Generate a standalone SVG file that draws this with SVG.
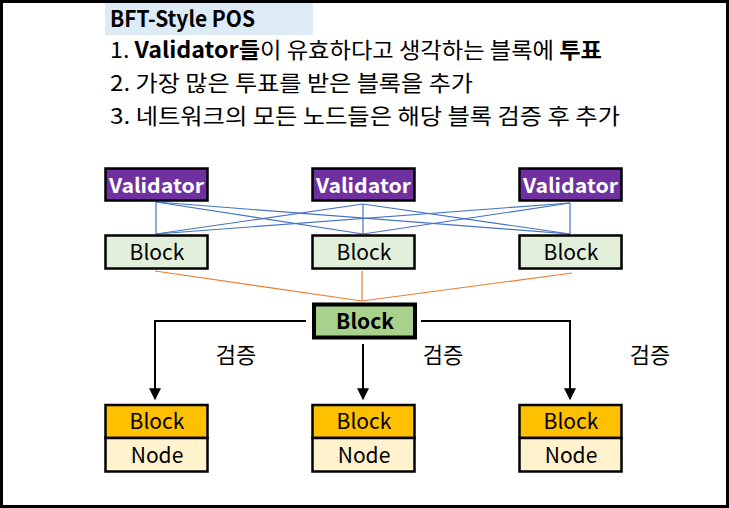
<svg xmlns="http://www.w3.org/2000/svg" width="729" height="508" viewBox="0 0 729 508">
<defs>
<style>
text{font-family:"Noto Sans CJK KR","Noto Sans",sans-serif;fill:#000}
.t{font-size:22px}
.b{font-weight:bold}
.lbl{font-size:21px;text-anchor:middle}
.ver{font-size:22px;text-anchor:middle}
.val rect{fill:#7030A0;stroke:#000;stroke-width:2.5}
.val text{fill:#fff;font-weight:bold}
.blk rect{fill:#E2EFDA;stroke:#000;stroke-width:2.5}
.nd rect.top{fill:#FFC000;stroke:#000;stroke-width:2.5}
.nd rect.bot{fill:#FFF2CC;stroke:#000;stroke-width:2.5}
.blue line{stroke:#4472C4;stroke-width:1.2}
.orange line{stroke:#ED7D31;stroke-width:1.2}
.arr{fill:none;stroke:#000;stroke-width:2;marker-end:url(#ah)}
</style>
<marker id="ah" viewBox="0 0 10 10" refX="9" refY="5" markerWidth="6.5" markerHeight="6" orient="auto" markerUnits="strokeWidth">
<path d="M0,0 L10,5 L0,10 Z" fill="#000"/>
</marker>
</defs>
<rect x="0" y="0" width="729" height="508" fill="#fff"/>
<rect x="1.5" y="1.5" width="726" height="505" fill="none" stroke="#000" stroke-width="3"/>

<g id="title">
<rect x="105" y="3" width="208" height="32" fill="#DDEBF7"/>
<text x="110" y="27" class="t b" font-size="21" textLength="145" lengthAdjust="spacingAndGlyphs">BFT-Style POS</text>
<text x="110" y="58" class="t" textLength="492" lengthAdjust="spacingAndGlyphs">1. <tspan class="b">Validator들</tspan>이 유효하다고 생각하는 블록에 <tspan class="b">투표</tspan></text>
<text x="110" y="91" class="t" textLength="363" lengthAdjust="spacingAndGlyphs">2. 가장 많은 투표를 받은 블록을 추가</text>
<text x="110" y="124" class="t" textLength="510" lengthAdjust="spacingAndGlyphs">3. 네트워크의 모든 노드들은 해당 블록 검증 후 추가</text>
</g>

<g id="connectors">
<g class="blue">
<line x1="156" y1="202" x2="156" y2="234"/>
<line x1="156" y1="202" x2="363" y2="234"/>
<line x1="156" y1="202" x2="570" y2="234"/>
<line x1="363" y1="204" x2="363" y2="234"/>
<line x1="363" y1="204" x2="156" y2="234"/>
<line x1="363" y1="204" x2="570" y2="234"/>
<line x1="570" y1="203" x2="570" y2="234"/>
<line x1="570" y1="203" x2="156" y2="234"/>
<line x1="570" y1="203" x2="363" y2="234"/>
</g>
<g class="orange">
<line x1="155" y1="271" x2="362" y2="301"/>
<line x1="362" y1="271" x2="362" y2="301"/>
<line x1="572" y1="273" x2="362" y2="301"/>
</g>
<path class="arr" d="M306,321 H155 V399"/>
<path class="arr" d="M363,344 V399"/>
<path class="arr" d="M421,321 H570 V399"/>
<text x="236" y="363" class="ver">검증</text>
<text x="443" y="363" class="ver">검증</text>
<text x="650" y="363" class="ver">검증</text>
</g>

<g id="validator1" class="val"><rect x="105.5" y="168.5" width="102" height="32"/><text x="156.5" y="193" font-size="20" text-anchor="middle" textLength="95" lengthAdjust="spacingAndGlyphs">Validator</text></g>
<g id="validator2" class="val"><rect x="312.5" y="168.5" width="102" height="32"/><text x="363.5" y="193" font-size="20" text-anchor="middle" textLength="95" lengthAdjust="spacingAndGlyphs">Validator</text></g>
<g id="validator3" class="val"><rect x="519.5" y="168.5" width="102" height="32"/><text x="570.5" y="193" font-size="20" text-anchor="middle" textLength="95" lengthAdjust="spacingAndGlyphs">Validator</text></g>

<g id="block1" class="blk"><rect x="105.5" y="235.5" width="102" height="33"/><text x="157" y="260" class="lbl">Block</text></g>
<g id="block2" class="blk"><rect x="312.5" y="235.5" width="102" height="33"/><text x="364" y="260" class="lbl">Block</text></g>
<g id="block3" class="blk"><rect x="519.5" y="235.5" width="102" height="33"/><text x="571" y="260" class="lbl">Block</text></g>

<g id="block-main"><rect x="314" y="304.5" width="101" height="33" fill="#A9D18E" stroke="#000" stroke-width="4"/><text x="365" y="329" class="lbl b">Block</text></g>

<g id="node1" class="nd"><rect class="top" x="105.5" y="405" width="102" height="33"/><rect class="bot" x="105.5" y="438" width="102" height="33.5"/><text x="157" y="429" class="lbl">Block</text><text x="157" y="463" class="lbl">Node</text></g>
<g id="node2" class="nd"><rect class="top" x="312.5" y="405" width="102" height="33"/><rect class="bot" x="312.5" y="438" width="102" height="33.5"/><text x="364" y="429" class="lbl">Block</text><text x="364" y="463" class="lbl">Node</text></g>
<g id="node3" class="nd"><rect class="top" x="519.5" y="405" width="102" height="33"/><rect class="bot" x="519.5" y="438" width="102" height="33.5"/><text x="571" y="429" class="lbl">Block</text><text x="571" y="463" class="lbl">Node</text></g>
</svg>
